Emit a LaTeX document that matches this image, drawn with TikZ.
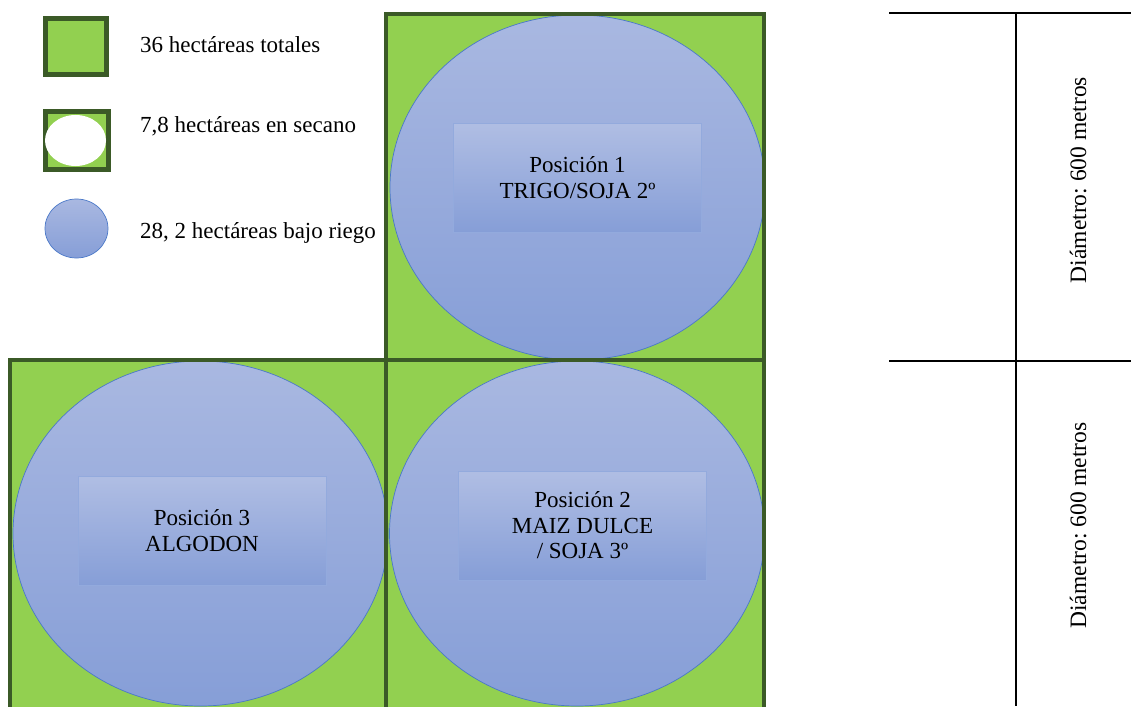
\documentclass[tikz,border=0pt]{standalone}
\usepackage{fontspec}
\setmainfont{Liberation Serif}
\usetikzlibrary{shapes.geometric}
\frenchspacing
\definecolor{fieldgreen}{HTML}{92D050}
\definecolor{fieldedge}{HTML}{3B5A27}
\definecolor{pivottop}{HTML}{A9B8E1}
\definecolor{pivotbot}{HTML}{869ED7}
\definecolor{pivotedge}{HTML}{4A78C8}
\definecolor{labeledge}{HTML}{93AADD}
\begin{document}
\begin{tikzpicture}[x=1pt,y=-1pt,
  txt/.style={font=\fontsize{23}{25.5}\selectfont, text=black, inner sep=0pt},
  field/.style={rectangle, fill=fieldgreen, inner sep=0pt, outer sep=0pt},
  fieldline/.style={draw=fieldedge, line width=4pt},
  pivot/.style={ellipse, draw=pivotedge, line width=0.7pt, top color=pivottop,
    bottom color=pivotbot, inner sep=0pt, minimum width=375pt, minimum height=345pt},
  croplabel/.style={rectangle, draw=labeledge, line width=0.5pt, top color=pivottop!92!white,
    bottom color=pivotbot, minimum width=248pt, minimum height=109pt, align=center,
    font=\fontsize{23}{25.5}\selectfont, text=black, inner sep=0pt},
  rule/.style={draw=black, line width=2pt}]
\clip (0,0) rectangle (1131,706);

% legend
\node[rectangle, draw=fieldedge, line width=5pt, fill=fieldgreen, minimum width=61pt,
  minimum height=56pt, inner sep=0pt] (legtotal) at (76,46.5) {};
\node[txt, anchor=west] (legtotaltxt) at (140,45) {36 hectáreas totales};
\node[rectangle, draw=fieldedge, line width=5pt, fill=fieldgreen, minimum width=63pt,
  minimum height=58pt, inner sep=0pt] (legdry) at (77,140.5) {};
\node[ellipse, fill=white, minimum width=61pt, minimum height=51pt, inner sep=0pt]
  (legdryhole) at (75.5,140.5) {};
\node[txt, anchor=west] (legdrytxt) at (140,126) {7,8 hectáreas en secano};
\node[ellipse, draw=pivotedge, line width=0.7pt, top color=pivottop, bottom color=pivotbot,
  minimum width=63pt, minimum height=59pt, inner sep=0pt] (legirr) at (76.5,228.5) {};
\node[txt, anchor=west] (legirrtxt) at (140,233) {28, 2 hectáreas bajo riego};

% the three fields
\node[field, minimum width=378pt, minimum height=345.5pt] (field1) at (575,187.25) {};
\node[field, minimum width=376.5pt, minimum height=360pt] (field3) at (197.75,540) {};
\node[field, minimum width=378pt, minimum height=360pt] (field2) at (575,540) {};

% irrigated circles
\node[pivot] (pivot1) at (577.5,187.5) {};
\node[pivot] (pivot3) at (200.5,533.5) {};
\node[pivot] (pivot2) at (577,533.5) {};

% field borders on top
\draw[fieldline] (field1.north west) rectangle (field1.south east);
\draw[fieldline] (field3.north west) rectangle (field3.south east);
\draw[fieldline] (field2.north west) rectangle (field2.south east);

% crop labels
\node[croplabel] (crop1) at (577.5,177.5) {Posición 1\\TRIGO/SOJA 2º};
\node[croplabel] (crop3) at (202,530.5) {Posición 3\\ALGODON};
\node[croplabel] (crop2) at (582.5,525.5) {Posición 2\\MAIZ DULCE\\ / SOJA 3º};

% dimension table
\coordinate (t0) at (889,13);
\coordinate (t1) at (1131,13);
\coordinate (m0) at (889,360.5);
\coordinate (m1) at (1131,360.5);
\coordinate (v0) at (1016,13);
\coordinate (v1) at (1016,706);
\draw[rule] (t0) -- (t1);
\draw[rule] (m0) -- (m1);
\draw[rule] (v0) -- (v1);
\node[txt, rotate=90, font=\fontsize{23.5}{26}\selectfont] (diam1) at (1078,180) {Diámetro: 600 metros};
\node[txt, rotate=90, font=\fontsize{23.5}{26}\selectfont] (diam2) at (1078,525.5) {Diámetro: 600 metros};
\end{tikzpicture}
\end{document}
